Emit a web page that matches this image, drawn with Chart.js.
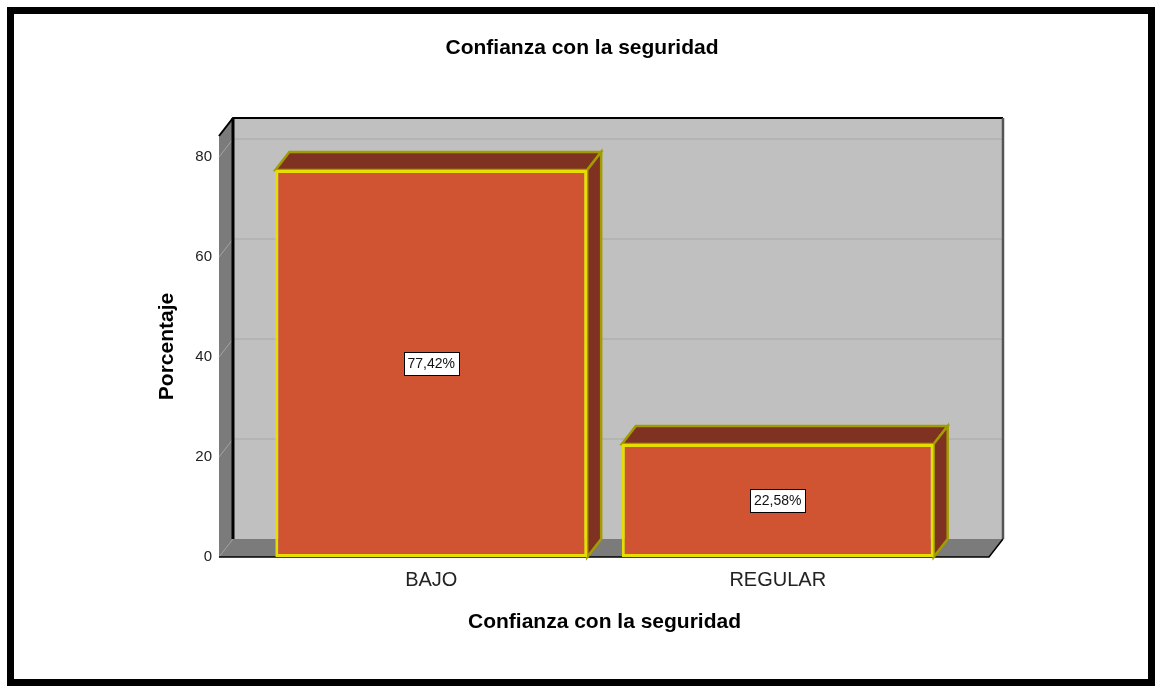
<!DOCTYPE html>
<html>
<head>
<meta charset="utf-8">
<script src="https://cdn.jsdelivr.net/npm/chart.js@4.4.1/dist/chart.umd.min.js"></script>
<style>
    html, body { margin: 0; padding: 0; background: #fff; }
    #wrap { position: relative; width: 1155px; height: 686px; overflow: hidden; }
    #frame {
        position: absolute; left: 7px; top: 7px; width: 1148px; height: 679px;
        box-sizing: border-box; border: 7px solid #000; pointer-events: none;
    }
    canvas { position: absolute; left: 0; top: 0; }
</style>
</head>
<body>
<div id="wrap">
    <canvas id="chart" width="1155" height="686"></canvas>
    <div id="frame"></div>
</div>
<script>
(function() {
    'use strict';

    var categories = ['BAJO', 'REGULAR'];
    var percentages = [77.42, 22.58];
    var yTicks = [0, 20, 40, 60, 80];

    var FONT = "'Liberation Sans', Arial, sans-serif";
    var TITLE = 'Confianza con la seguridad';
    var DX = 14, DY = 18;          // depth of the 3D box
    var WALL_LEFT = 39, WALL_RIGHT = 38;

    function frontPlane(chart) {
        var a = chart.chartArea;
        return { l: a.left - WALL_LEFT, r: a.right + WALL_RIGHT, t: a.top, b: a.bottom };
    }

    function poly(ctx, pts, fill, stroke, lw) {
        ctx.beginPath();
        ctx.moveTo(pts[0][0], pts[0][1]);
        for (var i = 1; i < pts.length; i++) ctx.lineTo(pts[i][0], pts[i][1]);
        ctx.closePath();
        if (fill) { ctx.fillStyle = fill; ctx.fill(); }
        if (stroke) { ctx.strokeStyle = stroke; ctx.lineWidth = lw || 1; ctx.stroke(); }
    }

    function line(ctx, pts, color, lw) {
        ctx.beginPath();
        ctx.moveTo(pts[0][0], pts[0][1]);
        for (var i = 1; i < pts.length; i++) ctx.lineTo(pts[i][0], pts[i][1]);
        ctx.strokeStyle = color;
        ctx.lineWidth = lw;
        ctx.stroke();
    }

    var boxPlugin = {
        id: 'box3d',
        beforeDatasetsDraw: function(chart) {
            var ctx = chart.ctx;
            var p = frontPlane(chart);
            var yScale = chart.scales.y;
            ctx.save();

            // back wall, left wall, floor
            poly(ctx, [[p.l + DX, p.t - DY], [p.r + DX, p.t - DY], [p.r + DX, p.b - DY], [p.l + DX, p.b - DY]], '#c0c0c0');
            poly(ctx, [[p.l, p.t], [p.l + DX, p.t - DY], [p.l + DX, p.b - DY], [p.l, p.b]], '#7b7b7b');
            poly(ctx, [[p.l, p.b], [p.l + DX, p.b - DY], [p.r + DX, p.b - DY], [p.r, p.b]], '#7b7b7b');

            // grid lines on the walls
            yTicks.forEach(function(v) {
                if (v === 0) return;
                var y = yScale.getPixelForValue(v);
                line(ctx, [[p.l + DX, y - DY], [p.r + DX, y - DY]], '#a8a8a8', 1);
                line(ctx, [[p.l, y], [p.l + DX, y - DY]], '#a4a4a4', 1);
            });
            line(ctx, [[p.l, p.b], [p.l + DX, p.b - DY]], '#9a9a9a', 1);

            // edges
            line(ctx, [[p.l + DX, p.t - DY], [p.l + DX, p.b - DY]], '#000', 3);
            line(ctx, [[p.l, p.t], [p.l + DX, p.t - DY], [p.r + DX, p.t - DY]], '#000', 2);
            line(ctx, [[p.r + DX, p.t - DY], [p.r + DX, p.b - DY]], '#555', 2.5);
            line(ctx, [[p.l, p.b], [p.r, p.b], [p.r + DX, p.b - DY]], '#000', 1.5);

            // bar top and side faces
            var meta = chart.getDatasetMeta(0);
            meta.data.forEach(function(bar) {
                var w = bar.width;
                var left = bar.x - w / 2, right = bar.x + w / 2;
                var top = bar.y, bottom = bar.base;
                poly(ctx, [[left, top], [left + DX, top - DY], [right + DX, top - DY], [right, top]], '#7f3122', '#a39c00', 2.5);
                poly(ctx, [[right, top], [right + DX, top - DY], [right + DX, bottom - DY], [right, bottom]], '#7f3122', '#a39c00', 2.5);
            });
            ctx.restore();
        },
        afterDatasetsDraw: function(chart) {
            var ctx = chart.ctx;
            var meta = chart.getDatasetMeta(0);
            ctx.save();
            ctx.font = '14px ' + FONT;
            ctx.textAlign = 'center';
            ctx.textBaseline = 'middle';
            meta.data.forEach(function(bar, i) {
                var text = percentages[i].toFixed(2).replace('.', ',') + '%';
                var cy = (bar.y + bar.base) / 2;
                var tw = ctx.measureText(text).width;
                var bw = Math.round(tw + 8), bh = 23;
                var bx = Math.round(bar.x - bw / 2) + 0.5, by = Math.round(cy - bh / 2) + 0.5;
                ctx.fillStyle = '#fff';
                ctx.fillRect(bx, by, bw, bh);
                ctx.strokeStyle = '#000';
                ctx.lineWidth = 1;
                ctx.strokeRect(bx, by, bw, bh);
                ctx.fillStyle = '#111';
                ctx.fillText(text, bar.x, cy + 1);
            });
            ctx.restore();
        },
        afterDraw: function(chart) {
            // main title, centred on the page rather than on the plot
            var ctx = chart.ctx;
            ctx.save();
            ctx.font = 'bold 21px ' + FONT;
            ctx.fillStyle = '#000';
            ctx.textAlign = 'center';
            ctx.textBaseline = 'middle';
            ctx.fillText(TITLE, 582, 48.7);
            ctx.restore();
        }
    };

    function initChart() {
        var canvas = document.getElementById('chart');
        if (!canvas || typeof Chart === 'undefined') return;

        new Chart(canvas.getContext('2d'), {
            type: 'bar',
            data: {
                labels: categories,
                datasets: [{
                    label: 'Porcentaje',
                    data: percentages,
                    backgroundColor: '#d05432',
                    borderColor: '#e6de00',
                    borderWidth: 3,
                    borderSkipped: false,
                    barPercentage: 0.9,
                    categoryPercentage: 1
                }]
            },
            options: {
                responsive: false,
                devicePixelRatio: 1,
                animation: false,
                layout: { padding: { top: 136, left: 0, right: 204, bottom: 0 } },
                plugins: {
                    legend: { display: false },
                    tooltip: { enabled: false },
                    title: { display: false }
                },
                scales: {
                    x: {
                        grid: { display: false, drawTicks: false },
                        border: { display: false },
                        ticks: {
                            color: '#222',
                            font: { family: FONT, size: 20 },
                            padding: 11,
                            maxRotation: 0
                        },
                        title: {
                            display: true,
                            text: TITLE,
                            color: '#000',
                            font: { family: FONT, size: 21, weight: 'bold' },
                            padding: { top: 0, bottom: 50.7 }
                        },
                        afterFit: function(s) { s.height = 129; }
                    },
                    y: {
                        min: 0,
                        max: 84.2,
                        grid: { display: false, drawTicks: false },
                        border: { display: false },
                        ticks: {
                            color: '#222',
                            font: { family: FONT, size: 15 },
                            padding: 46
                        },
                        afterBuildTicks: function(s) {
                            s.ticks = yTicks.map(function(v) { return { value: v }; });
                        },
                        title: {
                            display: true,
                            text: 'Porcentaje',
                            color: '#000',
                            font: { family: FONT, size: 21, weight: 'bold' },
                            padding: { top: 154.4, bottom: 0 }
                        },
                        afterFit: function(s) { s.width = 258; }
                    }
                }
            },
            plugins: [boxPlugin]
        });
    }

    document.addEventListener('DOMContentLoaded', initChart);
})();
</script>
</body>
</html>
